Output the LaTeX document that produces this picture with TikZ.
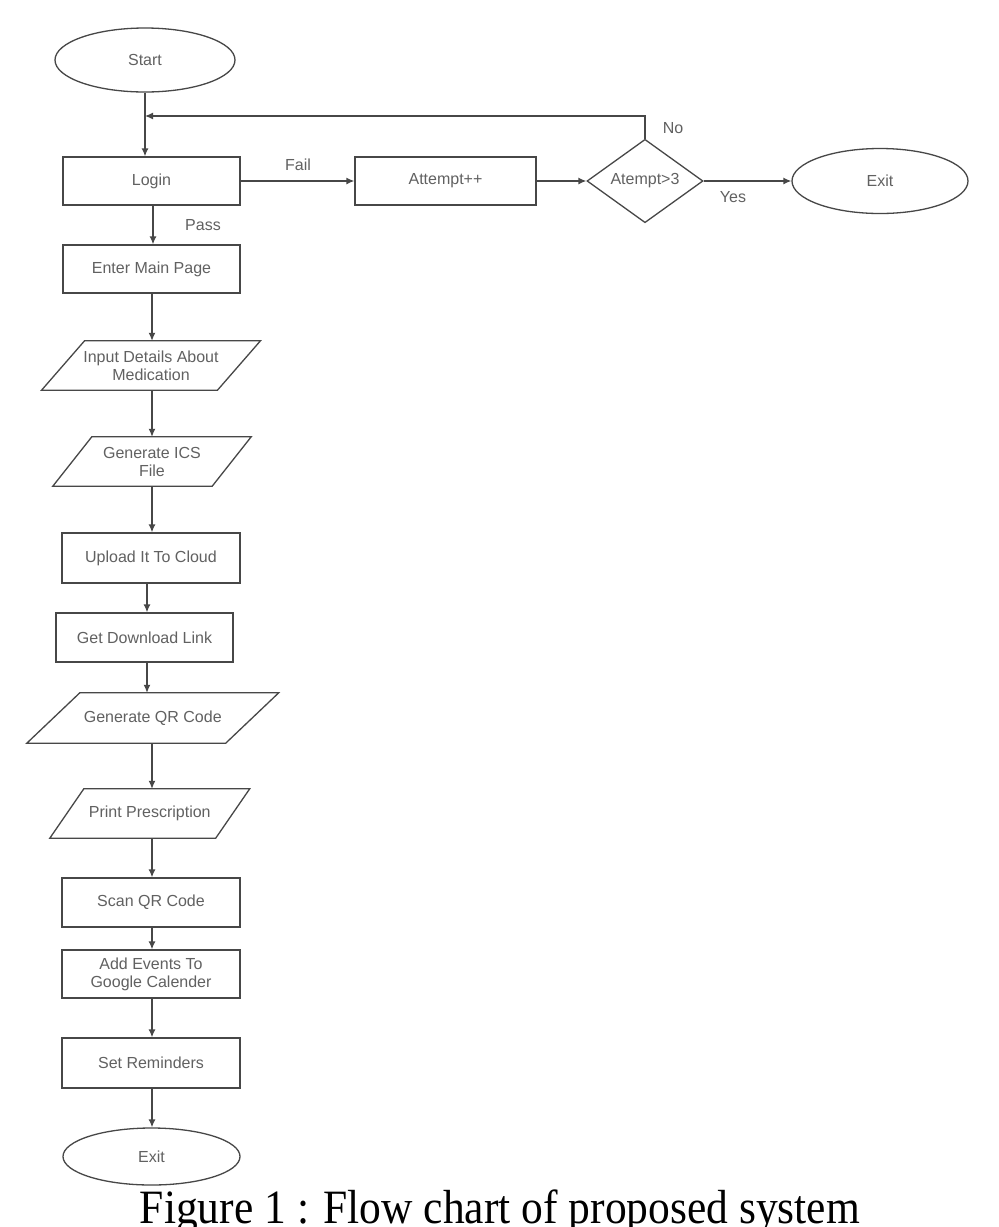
\documentclass[tikz,border=0pt]{standalone}
\usepackage{fontspec}
\setmainfont{Liberation Sans}
\newfontfamily\capfont{Liberation Serif}
\usetikzlibrary{shapes.geometric,arrows.meta}
\newcommand\drawpara[2]{\draw[line] ([xshift=#2pt]#1.north west) -- ([xshift=#2pt]#1.north east) -- ([xshift=-#2pt]#1.south east) -- ([xshift=-#2pt]#1.south west) -- cycle;}
\begin{document}
\begin{tikzpicture}[x=1pt,y=-1pt,
  every node/.style={font=\fontsize{16}{18}\selectfont, text=black!62},
  line/.style={draw=black!72, line width=1.3pt},
  arr/.style={line, -{Latex[length=8pt,width=7pt]}},
  boxnode/.style={line, rectangle, inner sep=0pt, align=center},
  oval/.style={line, ellipse, inner sep=0pt},
  dia/.style={line, diamond, inner sep=0pt},
  ionode/.style={rectangle, inner sep=0pt, align=center},
  lbl/.style={inner sep=0pt}]
\useasboundingbox (0,0) rectangle (999,1227);
\fill[white] (0,0) rectangle (999,1227);

% top row
\node[oval, minimum width=180pt, minimum height=64pt] (start) at (145,60) {Start};
\node[boxnode, minimum width=177pt, minimum height=48pt] (login) at (151.5,181) {Login};
\node[boxnode, minimum width=181pt, minimum height=48pt] (attempt) at (445.5,181) {Attempt++};
\node[dia, minimum width=116pt, minimum height=72pt] (dec) at (645,181) {Atempt>3};
\node[oval, minimum width=176pt, minimum height=65pt] (exitA) at (880,181) {Exit};

% main column
\node[boxnode, minimum width=177pt, minimum height=48pt] (main) at (151.5,269) {Enter Main Page};
\node[ionode, minimum width=175.5pt, minimum height=49pt] (input) at (151,365.5) {Input Details About\\Medication};
\node[ionode, minimum width=159pt, minimum height=49pt] (ics) at (152,461.5) {Generate ICS\\File};
\node[boxnode, minimum width=178pt, minimum height=50pt] (upload) at (151,558) {Upload It To Cloud};
\node[boxnode, minimum width=177pt, minimum height=49pt] (link) at (144.5,637.5) {Get Download Link};
\node[ionode, minimum width=198.5pt, minimum height=50pt] (qr) at (152.75,718) {Generate QR Code};
\node[ionode, minimum width=165.5pt, minimum height=49pt] (print) at (149.75,813.5) {Print Prescription};
\node[boxnode, minimum width=178pt, minimum height=49pt] (scan) at (151,902.5) {Scan QR Code};
\node[boxnode, minimum width=178pt, minimum height=48pt] (add) at (151,974) {Add Events To\\Google Calender};
\node[boxnode, minimum width=178pt, minimum height=50pt] (remind) at (151,1063) {Set Reminders};
\node[oval, minimum width=177pt, minimum height=57pt] (exitB) at (151.5,1156.5) {Exit};

\drawpara{input}{21.5}
\drawpara{ics}{19.5}
\drawpara{qr}{26.5}
\drawpara{print}{17}

% connectors
\coordinate (join) at (145,116);
\draw[arr] (start.south) -- (start.south |- login.north);
\draw[arr] (dec.north) |- (join);
\draw[arr] (login.east) -- (attempt.west);
\draw[arr] (attempt.east) -- (dec.west);
\draw[arr] (dec.east) -- (exitA.west);
\coordinate (lp) at (153,205);
\coordinate (mp) at (152,293);
\coordinate (ip) at (152,390);
\coordinate (cp) at (152,486);
\coordinate (up) at (147,583);
\coordinate (gp) at (147,662);
\coordinate (qp) at (152,743);
\coordinate (pp) at (152,838);
\coordinate (sp) at (152,927);
\coordinate (ap) at (152,998);
\coordinate (rp) at (152,1088);
\draw[arr] (lp) -- (lp |- main.north);
\draw[arr] (mp) -- (mp |- input.north);
\draw[arr] (ip) -- (ip |- ics.north);
\draw[arr] (cp) -- (cp |- upload.north);
\draw[arr] (up) -- (up |- link.north);
\draw[arr] (gp) -- (gp |- qr.north);
\draw[arr] (qp) -- (qp |- print.north);
\draw[arr] (pp) -- (pp |- scan.north);
\draw[arr] (sp) -- (sp |- add.north);
\draw[arr] (ap) -- (ap |- remind.north);
\draw[arr] (rp) -- (rp |- exitB.north);

% labels
\node[lbl] (fail) at (298,165) {Fail};
\node[lbl] (pass) at (203,225) {Pass};
\node[lbl] (no) at (673,128) {No};
\node[lbl] (yes) at (733,197) {Yes};

% caption
\node[anchor=base, inner sep=0pt, text=black, font=\capfont\fontsize{43.5}{48}\selectfont] (cap) at (500,1223)
  {\scalebox{1}[1.1]{Figure 1 : Flow chart of proposed system}};
\end{tikzpicture}
\end{document}
